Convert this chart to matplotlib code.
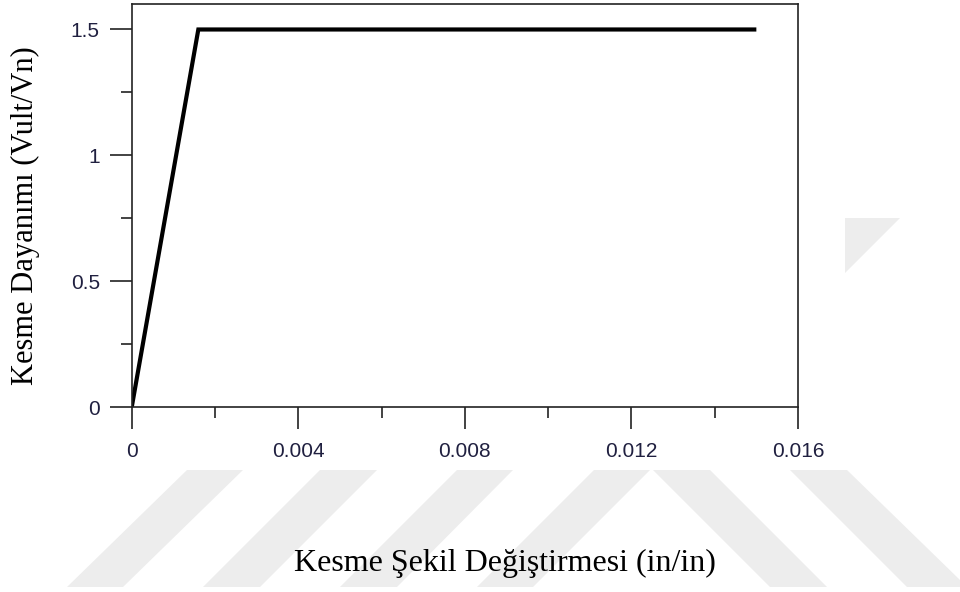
import numpy as np
import matplotlib.pyplot as plt
from matplotlib.patches import Polygon, Rectangle
from matplotlib.ticker import FixedLocator, FuncFormatter

# shear strain vs normalised shear strength (bilinear backbone)
strain = [0.0, 0.0016, 0.015]
strength = [0.0, 1.5, 1.5]

x_ticks = [0, 0.004, 0.008, 0.012, 0.016]
x_minor = [0.002, 0.006, 0.010, 0.014]
y_ticks = [0, 0.5, 1, 1.5]
y_minor = [0.25, 0.75, 1.25]

x_label = 'Kesme Şekil Değiştirmesi (in/in)'
y_label = 'Kesme Dayanımı (Vult/Vn)'

W, H = 960, 592
fig = plt.figure(figsize=(9.6, 5.92), dpi=100)


def px(points):
    # pixel coords (origin top-left) -> figure fraction
    return [(x / W, 1 - y / H) for x, y in points]


# light page background stripes
grey = '#ededed'
stripes = [
    [(67, 587), (123, 587), (243, 470), (187, 470)],
    [(203, 587), (260, 587), (377, 470), (320, 470)],
    [(340, 587), (397, 587), (513, 470), (457, 470)],
    [(477, 587), (533, 587), (650, 470), (594, 470)],
    [(653, 470), (710, 470), (827, 587), (770, 587)],
    [(790, 470), (847, 470), (960, 580), (960, 587), (907, 587)],
    [(844, 218), (900, 218), (844, 274)],
]
for s in stripes:
    fig.patches.append(Polygon(px(s), closed=True, transform=fig.transFigure,
                               facecolor=grey, edgecolor='none', zorder=-2))

# white backing for the plot area, over the stripes
fig.patches.append(Rectangle((0, 1 - 470 / H), 845 / W, 470 / H,
                             transform=fig.transFigure, facecolor='white',
                             edgecolor='none', zorder=-1))

ax = fig.add_axes([131.7 / W, 1 - 407.3 / H, (798 - 131.7) / W, (407.3 - 4.3) / H])
ax.set_facecolor('white')

ax.plot(strain, strength, color='black', linewidth=3.0,
        solid_capstyle='butt', solid_joinstyle='miter')

ax.set_xlim(0, 0.016)
ax.set_ylim(0, 1.6)

ax.xaxis.set_major_locator(FixedLocator(x_ticks))
ax.xaxis.set_minor_locator(FixedLocator(x_minor))
ax.yaxis.set_major_locator(FixedLocator(y_ticks))
ax.yaxis.set_minor_locator(FixedLocator(y_minor))
ax.xaxis.set_major_formatter(FuncFormatter(lambda v, p: '%g' % v))
ax.yaxis.set_major_formatter(FuncFormatter(lambda v, p: '%g' % v))

ax.tick_params(which='both', direction='out', top=False, right=False,
               width=1.2, color='#222222')
ax.tick_params(which='major', length=16)
ax.tick_params(which='minor', length=8)
ax.tick_params(axis='x', which='major', pad=9, labelsize=15, labelcolor='#202040')
ax.tick_params(axis='y', which='major', pad=7, labelsize=15, labelcolor='#202040')
for lbl in ax.get_xticklabels() + ax.get_yticklabels():
    lbl.set_family('Liberation Sans')

for sp in ax.spines.values():
    sp.set_linewidth(1.2)
    sp.set_color('#222222')

fig.text(505 / W, 1 - 563 / H, x_label, family='Liberation Serif',
         fontsize=23, ha='center', va='center', color='black')
fig.text(25 / W, 1 - 216 / H, y_label, family='Liberation Serif',
         fontsize=22, ha='center', va='center', rotation=90, color='black')

plt.savefig('out.png', dpi=100, facecolor='white')
